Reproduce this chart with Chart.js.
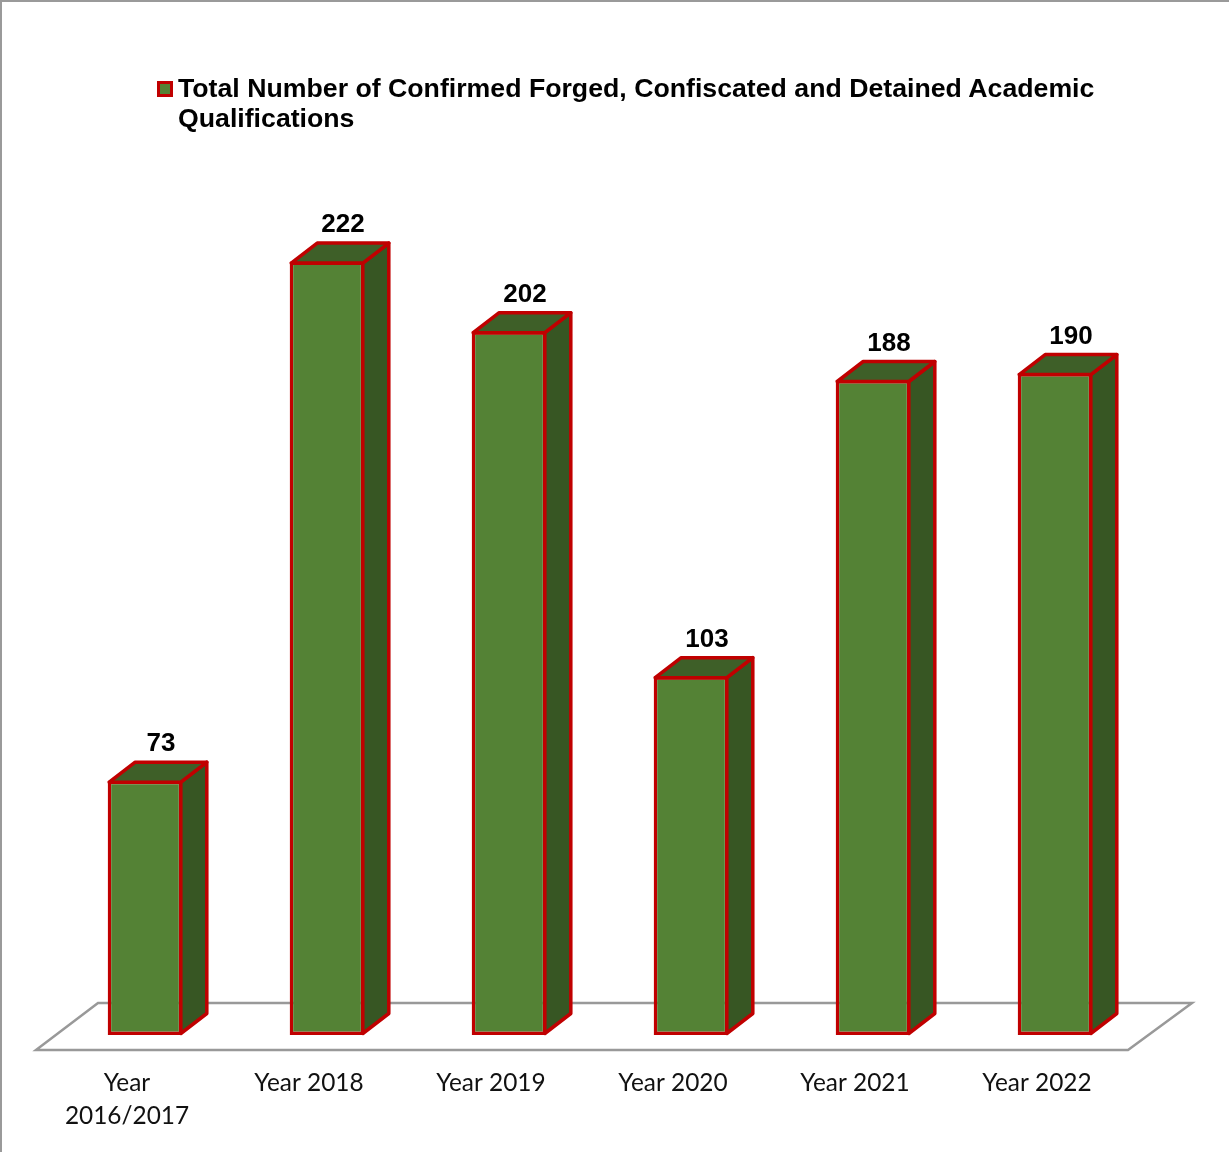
<!DOCTYPE html>
<html>
<head>
<meta charset="utf-8">
<script src="https://cdn.jsdelivr.net/npm/chart.js@4.4.1/dist/chart.umd.min.js"></script>
<style>
  html, body { margin: 0; padding: 0; background: #fff; }
  #wrap { position: relative; width: 1229px; height: 1152px; overflow: hidden; }
  #frame { position: absolute; left: 0; top: 0; width: 1229px; height: 1152px; box-sizing: border-box;
           border-top: 2px solid #9a9a9a; border-left: 2px solid #9a9a9a; pointer-events: none; }
  #legend { position: absolute; left: 157px; top: 73px; width: 1010px; font: bold 26.7px "Liberation Sans", Arial, sans-serif;
            line-height: 30px; color: #000; }
  #legend .box { position: absolute; left: 0; top: 8px; width: 10px; height: 10px; background: #548235;
                 border: 3px solid #C00000; }
  #legend .txt { margin-left: 21px; }
  #c { position: absolute; left: 0; top: 0; }
</style>
</head>
<body>
<div id="wrap">
  <canvas id="c" width="1229" height="1152"></canvas>
  <div id="legend"><span class="box"></span><div class="txt" id="legendText"></div></div>
  <div id="frame"></div>
</div>
<script>
const seriesName = "Total Number of Confirmed Forged, Confiscated and Detained Academic Qualifications";
const categories = [["Year", "2016/2017"], "Year 2018", "Year 2019", "Year 2020", "Year 2021", "Year 2022"];
const values = [73, 222, 202, 103, 188, 190];

document.getElementById('legendText').textContent = seriesName;

const FRONT = '#548235', TOP = '#3E5F28', SIDE = '#375623', EDGE = '#C00000';
const DX = 26, DY = 20;

const box3d = {
  id: 'box3d',
  beforeDatasetsDraw(chart) {
    const ctx = chart.ctx, a = chart.chartArea;
    const base = chart.scales.y.getPixelForValue(0);
    const shift = 18;
    ctx.save();
    ctx.strokeStyle = '#999999';
    ctx.lineWidth = 2.5;
    ctx.lineJoin = 'miter';
    ctx.beginPath();
    ctx.moveTo(a.left - shift, base + 15);
    ctx.lineTo(a.right - shift, base + 15);
    ctx.lineTo(a.right + 46, base - 32);
    ctx.lineTo(a.left + 44, base - 32);
    ctx.closePath();
    ctx.stroke();
    ctx.restore();
  },
  afterDatasetsDraw(chart) {
    const ctx = chart.ctx;
    const meta = chart.getDatasetMeta(0);
    ctx.save();
    ctx.lineJoin = 'round';
    ctx.lineWidth = 3.5;
    ctx.strokeStyle = EDGE;
    meta.data.forEach((el, i) => {
      const p = el.getProps(['x', 'y', 'base', 'width'], true);
      const L = p.x - p.width / 2 + 1.5, R = p.x + p.width / 2 - 1.5, T = p.y + 1.5, B = p.base - 1.5;
      ctx.fillStyle = SIDE;
      ctx.beginPath();
      ctx.moveTo(R, T); ctx.lineTo(R + DX, T - DY); ctx.lineTo(R + DX, B - DY); ctx.lineTo(R, B); ctx.closePath();
      ctx.fill(); ctx.stroke();
      ctx.fillStyle = TOP;
      ctx.beginPath();
      ctx.moveTo(L, T); ctx.lineTo(L + DX, T - DY); ctx.lineTo(R + DX, T - DY); ctx.lineTo(R, T); ctx.closePath();
      ctx.fill(); ctx.stroke();
      ctx.fillStyle = '#000';
      ctx.font = 'bold 26px "Liberation Sans", Arial, sans-serif';
      ctx.textAlign = 'center';
      ctx.textBaseline = 'alphabetic';
      ctx.fillText(String(values[i]), p.x + DX / 2 + 3, T - DY - 11);
    });
    ctx.restore();
  }
};

new Chart(document.getElementById('c'), {
  type: 'bar',
  data: {
    labels: categories,
    datasets: [{
      label: seriesName,
      data: values,
      backgroundColor: FRONT,
      borderColor: EDGE,
      borderWidth: 3.5,
      borderSkipped: false,
      barPercentage: 0.41,
      categoryPercentage: 1.0
    }]
  },
  options: {
    responsive: false,
    animation: false,
    events: [],
    layout: { padding: { left: 54, right: 83, top: 164, bottom: 0 } },
    plugins: { legend: { display: false }, tooltip: { enabled: false } },
    scales: {
      x: {
        offset: true,
        border: { display: false },
        grid: { display: false, drawTicks: false },
        afterFit(s) { s.height = 117; },
        ticks: {
          labelOffset: -18,
          padding: 32,
          maxRotation: 0,
          autoSkip: false,
          color: '#111',
          font: { family: 'Lato', size: 24.4, lineHeight: 1.33 }
        }
      },
      y: {
        display: false,
        min: 0,
        max: 250,
        afterFit(s) { s.width = 0; }
      }
    }
  },
  plugins: [box3d]
});
</script>
</body>
</html>
